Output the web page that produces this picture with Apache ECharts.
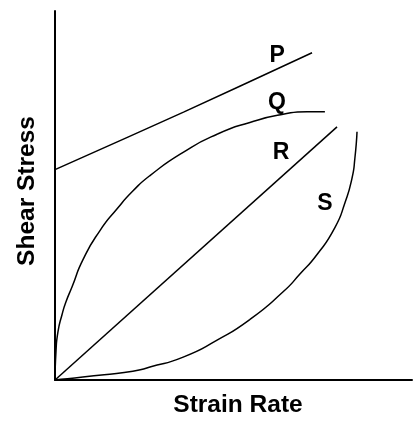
<!DOCTYPE html>
<html>
<head>
<meta charset="utf-8">
<script src="https://cdn.jsdelivr.net/npm/echarts@6/dist/echarts.min.js"></script>
<style>
html,body{margin:0;padding:0;background:#fff;}
#chart{width:414px;height:423px;}
</style>
</head>
<body>
<div id="chart"></div>
<script>
// Curve data (x = strain rate, y = shear stress), arbitrary units 0..100
var seriesP = [[0, 57.0], [36, 72.6], [72, 88.7]];
var seriesQ = [[0, 0], [0.28, 7.8], [0.84, 13.1], [1.96, 17.7], [3.08, 21.2], [4.76, 25.2], [7.84, 32.6], [12.6, 40.5], [17.4, 46.4], [21.8, 51.2], [26.6, 55.4], [35.9, 61.7], [45.4, 66.6], [54.6, 69.8], [63.9, 72.0], [70.6, 72.7], [75.6, 72.7]];
var seriesR = [[0, 0], [79.0, 68.6]];
var seriesS = [[0, 0], [7.8, 0.8], [21.8, 2.4], [26.6, 3.5], [35.9, 6.2], [45.4, 10.8], [54.6, 16.4], [63.9, 23.9], [68.6, 28.7], [73.4, 34.0], [78.4, 41.3], [81.2, 48.0], [83.2, 54.7], [84.0, 60.1], [84.6, 67.3]];
var curveLabels = ['P', 'Q', 'R', 'S'];
var labelPositions = [[62.2, 87.8], [62.2, 75.1], [63.3, 61.7], [75.6, 47.8]];
var xTitle = 'Strain Rate';
var yTitle = 'Shear Stress';

var chart = echarts.init(document.getElementById('chart'), null, {renderer: 'canvas'});
var lineStyle = {color: '#000', width: 1.5};
function curve(name, data, smooth) {
  return {
    name: name, type: 'line', data: data, smooth: smooth,
    showSymbol: false, symbol: 'none', silent: true,
    lineStyle: lineStyle, animation: false
  };
}
var titleFont = {fontFamily: 'Liberation Sans', fontSize: 24.5, fontWeight: 'bold', color: '#000'};
var option = {
  animation: false,
  backgroundColor: '#fff',
  grid: {left: 55, right: 2, top: 11, bottom: 39},
  xAxis: {
    type: 'value', min: 0, max: 100,
    name: xTitle, nameLocation: 'middle', nameGap: 13,
    nameTextStyle: Object.assign({padding: [0, 0, 0, 9]}, titleFont),
    axisLine: {show: true, lineStyle: {color: '#000', width: 2}},
    axisTick: {show: false}, axisLabel: {show: false}, splitLine: {show: false}
  },
  yAxis: {
    type: 'value', min: 0, max: 100,
    name: yTitle, nameLocation: 'middle', nameGap: 15,
    nameTextStyle: Object.assign({padding: [0, 0, 0, 9]}, titleFont),
    axisLine: {show: true, lineStyle: {color: '#000', width: 2}},
    axisTick: {show: false}, axisLabel: {show: false}, splitLine: {show: false}
  },
  series: [
    curve('P', seriesP, 0.3),
    curve('Q', seriesQ, 0.6),
    curve('R', seriesR, false),
    curve('S', seriesS, 0.6),
    {
      type: 'scatter', symbolSize: 0, silent: true,
      itemStyle: {color: '#000', opacity: 1},
      data: labelPositions.map(function (p, i) { return {value: p, name: curveLabels[i]}; }),
      label: {
        show: true, position: 'inside', formatter: '{b}',
        fontFamily: 'Liberation Sans', fontSize: 23, fontWeight: 'bold',
        color: '#000', textBorderWidth: 0, textBorderColor: 'transparent'
      }
    }
  ]
};
chart.setOption(option);
</script>
</body>
</html>
